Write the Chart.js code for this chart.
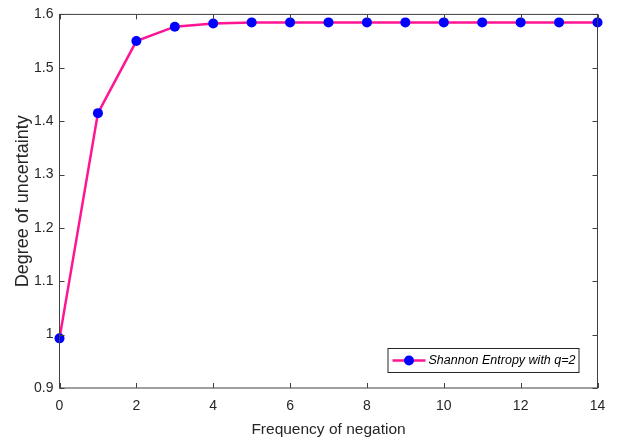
<!DOCTYPE html>
<html>
<head>
<meta charset="utf-8">
<script src="https://cdn.jsdelivr.net/npm/chart.js@4.4.0/dist/chart.umd.min.js"></script>
<style>
	html, body { margin: 0; padding: 0; background: #fff; }
	#wrap { width: 618px; height: 440px; }
</style>
</head>
<body>
<div id="wrap"><canvas id="entropyChart" width="618" height="440"></canvas></div>
<script>
// --- Data ---
const negationCounts = [0, 1, 2, 3, 4, 5, 6, 7, 8, 9, 10, 11, 12, 13, 14];
const entropyValues = [0.993, 1.415, 1.55, 1.577, 1.583, 1.585, 1.585, 1.585, 1.585, 1.585, 1.585, 1.585, 1.585, 1.585, 1.585];
const xTicks = [0, 2, 4, 6, 8, 10, 12, 14];
const yTicks = [0.9, 1, 1.1, 1.2, 1.3, 1.4, 1.5, 1.6];
const seriesLabel = "Shannon Entropy with q=2";

const AXIS_COLOR = "#262626";
const FRAME_COLOR = "#404040";
const LINE_COLOR = "#ff1493";
const POINT_COLOR = "#0000ff";
const FONT = "'Liberation Sans', Arial, sans-serif";

// box around the plot + inward tick marks (MATLAB style) + legend inside
const matlabFrame = {
	id: "matlabFrame",
	afterDatasetsDraw(chart) {
		const { ctx, chartArea: a, scales } = chart;
		ctx.save();
		ctx.strokeStyle = FRAME_COLOR;
		ctx.lineWidth = 1;
		ctx.strokeRect(a.left, a.top, a.right - a.left, a.bottom - a.top);

		const len = 5;
		ctx.beginPath();
		xTicks.forEach((v) => {
			const px = Math.round(scales.x.getPixelForValue(v)) + 0.5;
			ctx.moveTo(px, a.bottom);
			ctx.lineTo(px, a.bottom - len);
			ctx.moveTo(px, a.top);
			ctx.lineTo(px, a.top + len);
		});
		yTicks.forEach((v) => {
			const py = Math.round(scales.y.getPixelForValue(v)) + 0.5;
			ctx.moveTo(a.left, py);
			ctx.lineTo(a.left + len, py);
			ctx.moveTo(a.right, py);
			ctx.lineTo(a.right - len, py);
		});
		ctx.stroke();

		// legend box, bottom right inside the plot
		const bw = 191, bh = 24;
		const bx = a.right - 19 - bw;
		const by = a.bottom - 16 - bh;
		ctx.fillStyle = "#fff";
		ctx.fillRect(bx, by, bw, bh);
		ctx.strokeStyle = AXIS_COLOR;
		ctx.strokeRect(bx + 0.5, by + 0.5, bw, bh);
		const cy = by + bh / 2 + 0.5;
		ctx.strokeStyle = LINE_COLOR;
		ctx.lineWidth = 2.5;
		ctx.beginPath();
		ctx.moveTo(bx + 5, cy);
		ctx.lineTo(bx + 38, cy);
		ctx.stroke();
		ctx.fillStyle = POINT_COLOR;
		ctx.beginPath();
		ctx.arc(bx + 21.5, cy, 5, 0, Math.PI * 2);
		ctx.fill();
		ctx.fillStyle = "#000";
		ctx.font = "italic 12.5px " + FONT;
		ctx.textBaseline = "middle";
		ctx.fillText(seriesLabel, bx + 41, cy);
		ctx.restore();
	},
};

const ctx = document.getElementById("entropyChart").getContext("2d");
new Chart(ctx, {
	type: "line",
	data: {
		labels: negationCounts,
		datasets: [
			{
				label: seriesLabel,
				data: negationCounts.map((x, i) => ({ x: x, y: entropyValues[i] })),
				borderColor: LINE_COLOR,
				borderWidth: 2.5,
				pointRadius: 5,
				pointBackgroundColor: POINT_COLOR,
				pointBorderColor: POINT_COLOR,
				pointBorderWidth: 0,
				tension: 0,
				clip: 8,
			},
		],
	},
	options: {
		responsive: false,
		animation: false,
		layout: { padding: { top: 12, right: 20.5, left: 0, bottom: 0 } },
		plugins: {
			legend: { display: false },
			tooltip: { enabled: false },
		},
		scales: {
			x: {
				type: "linear",
				min: 0,
				max: 14,
				afterBuildTicks: (s) => { s.ticks = xTicks.map((v) => ({ value: v })); },
				afterFit: (s) => { s.height = 52; },
				grid: { display: false, drawTicks: false },
				border: { display: false },
				ticks: {
					color: AXIS_COLOR,
					padding: 10,
					maxRotation: 0,
					font: { family: FONT, size: 14 },
				},
				title: {
					display: true,
					text: "Frequency of negation",
					color: AXIS_COLOR,
					padding: { top: 0, bottom: 1 },
					font: { family: FONT, size: 15.5 },
				},
			},
			y: {
				type: "linear",
				min: 0.9,
				max: 1.6,
				afterBuildTicks: (s) => { s.ticks = yTicks.map((v) => ({ value: v })); },
				afterFit: (s) => { s.width = 59.5; },
				grid: { display: false, drawTicks: false },
				border: { display: false },
				ticks: {
					color: AXIS_COLOR,
					padding: 6,
					font: { family: FONT, size: 14 },
					callback: (v) => String(Math.round(v * 10) / 10),
				},
				title: {
					display: true,
					text: "Degree of uncertainty",
					color: AXIS_COLOR,
					padding: { top: 12, bottom: 0 },
					font: { family: FONT, size: 18 },
				},
			},
		},
	},
	plugins: [matlabFrame],
});
</script>
</body>
</html>
